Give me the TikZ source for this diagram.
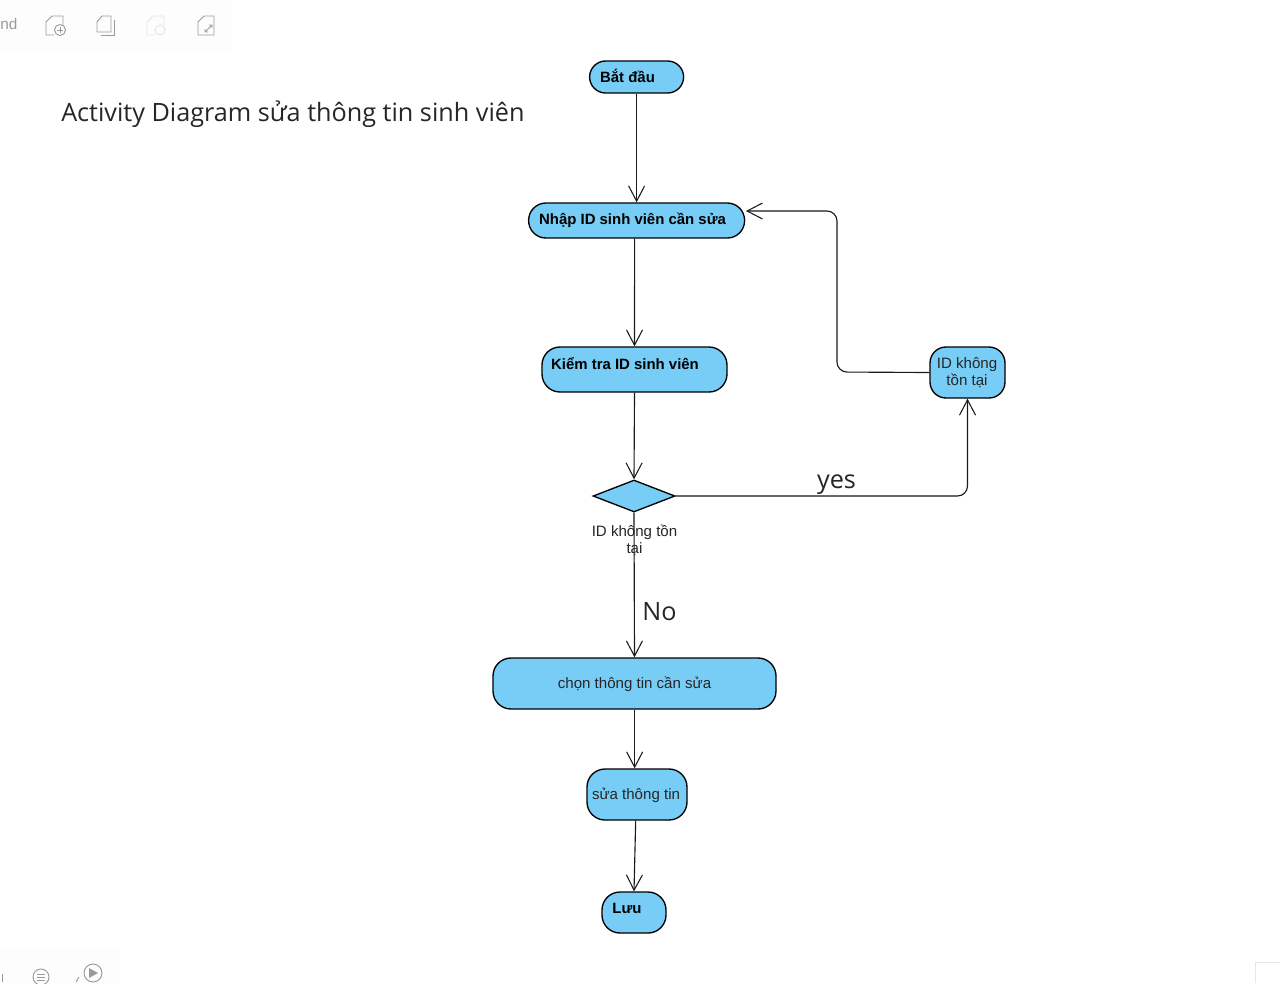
\documentclass[tikz,border=0pt]{standalone}
\usepackage{fontspec}
\setmainfont{Liberation Sans}
\newfontfamily\titlefont{Open Sans}
\usetikzlibrary{arrows.meta,shapes.geometric}
\definecolor{nodeblue}{HTML}{77CDF6}
\definecolor{edge}{HTML}{1A1A1A}
\definecolor{icongray}{HTML}{9A9A9A}
\definecolor{iconpale}{HTML}{E6E6E6}
\definecolor{panel}{HTML}{FDFDFD}
\tikzset{
 act/.style={draw=black,fill=nodeblue,line width=1pt,rectangle,rounded corners=#1,inner sep=0pt},
 act/.default=13pt,
 lab/.style={inner sep=0pt,font=\fontsize{11.3}{13.2}\selectfont,text=black!85,align=center},
 blab/.style={inner sep=0pt,font=\fontsize{11.2}{13.2}\selectfont\bfseries,text=black},
 big/.style={inner sep=0pt,font=\titlefont\fontsize{18.9}{23}\selectfont,text=black!85},
 flow/.style={draw=edge,line width=0.85pt,-{Straight Barb[length=11.5pt,width=12pt,line width=0.8pt]}},
 icon/.style={draw=icongray,line width=0.7pt},
 iconp/.style={draw=iconpale,line width=0.7pt},
}
\begin{document}
\begin{tikzpicture}[x=0.75pt,y=-0.75pt]
\useasboundingbox (0,0) rectangle (1280,983);
\fill[white] (0,0) rectangle (1280,983);
% screen furniture
\fill[panel] (0,0) rectangle (232,50);
\fill[panel] (0,950) rectangle (120,983);
\node[anchor=west,inner sep=0pt,text=icongray,font=\fontsize{11.5}{13}\selectfont] (nd) at (0,24) {nd};
\draw[icon] (63,25) -- (63,16) -- (52,16) -- (46,22) -- (46,35) -- (54,35);
\draw[icon] (60,30) circle (5.5);
\draw[icon] (57,30) -- (63,30) (60,27) -- (60,33);
\draw[icon] (97,22) -- (102,16) -- (111,16) -- (111,32) -- (97,32) -- cycle;
\draw[icon] (114,20) -- (114,35) -- (101,35);
\draw[iconp] (164,25) -- (164,16) -- (153,16) -- (147,22) -- (147,35) -- (155,35);
\draw[iconp] (160,30) circle (5);
\draw[icon] (214,35) -- (214,16) -- (204,16) -- (198,22) -- (198,35) -- cycle;
\draw[icon] (205,32) -- (212,25) (209,25) -- (212,25) -- (212,28) (205,29) -- (205,32) -- (208,32);
\draw[icon] (41,977) circle (8);
\draw[icon] (37,974.5) -- (45,974.5) (37,977.5) -- (45,977.5) (37,980.5) -- (45,980.5);
\draw[icon] (93,973) circle (9);
\fill[icongray] (89,968) -- (98,973) -- (89,978) -- cycle;
\draw[icon] (76,982) -- (79,977);
\draw[icon] (2,974) -- (2,982);
\draw[draw=iconpale] (1280,962) -- (1255,962) -- (1255,983);
% title
\node[big,anchor=west] (title) at (61,114) {Activity Diagram sửa thông tin sinh viên};
% nodes
\node[act=12pt,minimum width=70.5pt,minimum height=24pt] (start) at (636.6,77) {};
\node[act=13pt,minimum width=162pt,minimum height=26.25pt] (nhap) at (636.6,220.5) {};
\node[act=13.5pt,minimum width=138.75pt,minimum height=33.75pt] (kiem) at (634.5,369.5) {};
\node[diamond,draw=black,fill=nodeblue,line width=1pt,inner sep=0pt,minimum width=61.5pt,minimum height=24pt] (dec) at (634,496) {};
\node[act=12pt,minimum width=56.25pt,minimum height=38.25pt] (idn) at (967.5,372.5) {};
\node[act=13.5pt,minimum width=212.25pt,minimum height=38.25pt] (chon) at (634.5,683.5) {};
\node[act=13.5pt,minimum width=75pt,minimum height=38.25pt] (sua) at (637,794.5) {};
\node[act=13.5pt,minimum width=48pt,minimum height=30.75pt] (luu) at (634,912.5) {};
% node texts
\node[blab] (tstart) at (627.5,76) {Bắt đầu};
\node[blab] (tnhap) at (632.5,220) {Nhập ID sinh viên cần sửa};
\node[blab] (tkiem) at (625,363.5) {Kiểm tra ID sinh viên};
\node[lab] (tid) at (967,372.5) {ID không\\[-0.6pt]tồn tại};
\node[lab] (tdec) at (634.5,540.5) {ID không tồn\\[-0.6pt]tại};
\node[lab] (tchon) at (634.5,684) {chọn thông tin cần sửa};
\node[lab] (tsua) at (636,795) {sửa thông tin};
\node[blab] (tluu) at (627,908) {Lưu};
\node[big] (yes) at (836.5,485) {yes};
\node[big] (no) at (659.5,612) {No};
% connectors
\draw[flow] (start.south) -- (nhap.north);
\draw[flow] ([xshift=-1.5pt]nhap.south) -- (kiem.north);
\draw[flow] (kiem.south) -- (dec.north);
\draw[flow] (dec.south) -- (chon.north);
\draw[flow] ([xshift=0.1pt]chon.south) -- ([xshift=0.1pt]chon.south |- sua.north);
\draw[flow] ([xshift=-1pt]sua.south) -- (luu.north);
\draw[flow,rounded corners=7.5pt] (dec.east) -- (idn.south |- dec.east) -- (idn.south);
\coordinate (bend) at (837,372);
\coordinate (back) at (746,211);
\draw[flow,rounded corners=7.5pt] (idn.west) -- (bend) -- (bend |- back) -- (back);
\end{tikzpicture}
\end{document}
